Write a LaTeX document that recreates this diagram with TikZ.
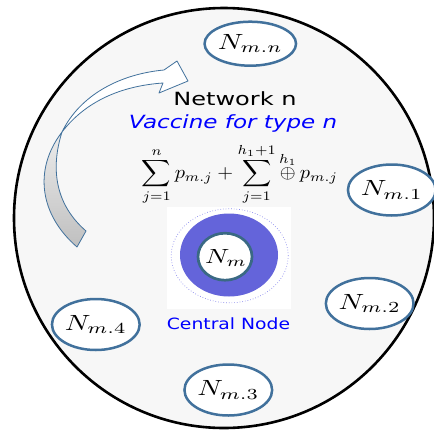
\documentclass[tikz,border=0pt]{standalone}
\usepackage{fontspec}
\usepackage{amsmath}
\usepackage{graphicx}
\usetikzlibrary{shapes.geometric}
\newfontfamily\dejavu{DejaVu Sans}
\definecolor{nodeblue}{RGB}{65,113,156}
\definecolor{ringblue}{RGB}{100,100,218}
\definecolor{innerteal}{RGB}{58,105,132}
\definecolor{dotblue}{RGB}{140,140,238}
\definecolor{bgfill}{RGB}{247,247,247}
\newcommand{\mylab}[1]{\scalebox{2.82}[2.2]{$#1$}}
\tikzset{
  subnode/.style={ellipse, draw=nodeblue, line width=2.5pt, fill=white, inner sep=0pt, minimum width=69pt, minimum height=51pt},
  arrowline/.style={draw=nodeblue, line width=0.8pt, line join=round},
  txt/.style={inner sep=0pt, anchor=base}
}
\begin{document}
\begin{tikzpicture}[x=1pt,y=-1pt]
\fill[white] (0,0) rectangle (434,429);
\useasboundingbox (0,0) rectangle (434,429);
% big circle
\draw[line width=2.6pt, fill=bgfill] (224,218) circle[radius=210pt];
% curved arrow: back (gray) part
\path[arrowline, top color=gray!15, bottom color=gray!50]
  (77,247) .. controls (40,215) and (33,170) .. (62,132)
  .. controls (50,170) and (56,205) .. (86,231) -- cycle;
% front (white) part
\path[arrowline, fill=white]
  (62,132) .. controls (80,95) and (120,74) .. (164,70)
  -- (177,61) -- (188,81) -- (159,93) -- (163,83)
  .. controls (120,86) and (85,102) .. (62,132) -- cycle;
% texts
\node[txt] (net) at (235,105.7) {\scalebox{1.32}[1]{\fontsize{18.2}{21}\selectfont\dejavu Network n}};
\node[txt, text=blue] (vac) at (233,128.3) {\scalebox{1.265}[1]{\fontsize{18.2}{21}\selectfont\dejavu\itshape Vaccine for type n}};
\node[inner sep=0pt] (formula) at (240,174.5) {\resizebox*{196pt}{61pt}{$\displaystyle\sum_{j=1}^{n}p_{m.j}+\sum_{j=1}^{h_1+1}\overset{h_1}{\oplus}\,p_{m.j}$}};
% central node
\fill[white] (167,207) rectangle (291,309);
\node[ellipse, draw=dotblue, dotted, line width=0.7pt, minimum width=117pt, minimum height=94pt, inner sep=0pt] (halo) at (229.7,255.8) {};
\node[ellipse, fill=ringblue, minimum width=98pt, minimum height=83pt, inner sep=0pt] (ring) at (229,255) {};
\node[ellipse, draw=innerteal, line width=2.7pt, fill=white, minimum width=54pt, minimum height=47pt, inner sep=0pt] (core) at (225,256.7) {};
\node[inner sep=0pt] (nm) at (226,258) {\scalebox{2.67}[2.05]{$N_m$}};
\node[txt, text=blue] (central) at (228.5,329) {\scalebox{1.21}[1]{\fontsize{15.5}{18}\selectfont\dejavu Central Node}};
% surrounding nodes
\node[subnode, minimum width=70pt, minimum height=44pt] (nmn) at (250.3,43.7) {\mylab{N_{m.n}}};
\node[subnode] (n1) at (391.8,190) {\mylab{N_{m.1}}};
\node[subnode] (n2) at (369.7,303.5) {\mylab{N_{m.2}}};
\node[subnode] (n3) at (228.3,390) {\mylab{N_{m.3}}};
\node[subnode] (n4) at (95.8,324.5) {\mylab{N_{m.4}}};
\end{tikzpicture}
\end{document}
